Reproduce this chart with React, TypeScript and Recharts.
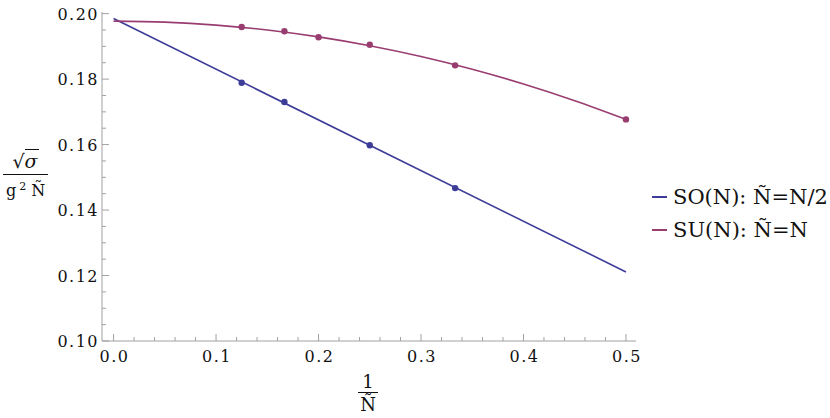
import { ComposedChart, Line, Scatter, XAxis, YAxis } from "recharts";

// fit curves
const SU_FIT_X = [0, 0.05, 0.1, 0.15, 0.2, 0.25, 0.3, 0.35, 0.4, 0.45, 0.5];
const SU_FIT_Y = [0.1977, 0.1974, 0.1965, 0.195, 0.1929, 0.1902, 0.1869, 0.183, 0.1785, 0.1734, 0.1677];
const SO_FIT_X = [0, 0.5];
const SO_FIT_Y = [0.1985, 0.1211];

// measured points
const SO_X = [0.125, 0.1667, 0.25, 0.3333];
const SO_Y = [0.1789, 0.173, 0.1598, 0.1467];
const SU_X = [0.125, 0.1667, 0.2, 0.25, 0.3333, 0.5];
const SU_Y = [0.1959, 0.1946, 0.1928, 0.1905, 0.1842, 0.1677];

const X_MAJOR = [0, 0.1, 0.2, 0.3, 0.4, 0.5];
const X_MINOR = [0.02, 0.04, 0.06, 0.08, 0.12, 0.14, 0.16, 0.18, 0.22, 0.24, 0.26, 0.28, 0.32, 0.34, 0.36, 0.38, 0.42, 0.44, 0.46, 0.48];
const Y_MAJOR = [0.1, 0.12, 0.14, 0.16, 0.18, 0.2];
const Y_MINOR = [0.105, 0.11, 0.115, 0.125, 0.13, 0.135, 0.145, 0.15, 0.155, 0.165, 0.17, 0.175, 0.185, 0.19, 0.195];

const SO_COLOR = "#3d3d99";
const SU_COLOR = "#993d71";
const FRAME = "#a0a0a0";
const SERIF = "DejaVu Serif";

const zip = (xs: number[], ys: number[]) => xs.map((x, i) => ({ x, y: ys[i] }));

const soFit = zip(SO_FIT_X, SO_FIT_Y);
const suFit = zip(SU_FIT_X, SU_FIT_Y);
const soPts = zip(SO_X, SO_Y);
const suPts = zip(SU_X, SU_Y);

const xTicks = [...X_MAJOR, ...X_MINOR].sort((a, b) => a - b);
const yTicks = [...Y_MAJOR, ...Y_MINOR].sort((a, b) => a - b);

type Side = "bottom" | "top" | "left" | "right";

function makeTick(side: Side, majors: number[], digits: number) {
  // eslint-disable-next-line @typescript-eslint/no-explicit-any
  return (props: any) => {
    const { x, y, payload } = props;
    const major = majors.includes(payload.value);
    const len = major ? 7 : 4;
    let x2 = x;
    let y2 = y;
    if (side === "bottom") y2 = y - len;
    if (side === "top") y2 = y + len;
    if (side === "left") x2 = x + len;
    if (side === "right") x2 = x - len;
    return (
      <g>
        <line x1={x} y1={y} x2={x2} y2={y2} stroke={FRAME} strokeWidth={1} />
        {major && side === "bottom" && (
          <text x={x + 1} y={y + 21} textAnchor="middle" fontSize={16} letterSpacing={1.5} fill="#111" style={{ fontFamily: SERIF }}>
            {payload.value.toFixed(digits)}
          </text>
        )}
        {major && side === "left" && (
          <text x={x - 3} y={y + 6} textAnchor="end" fontSize={16} letterSpacing={1.5} fill="#111" style={{ fontFamily: SERIF }}>
            {payload.value.toFixed(digits)}
          </text>
        )}
      </g>
    );
  };
}

function Dot(color: string) {
  // eslint-disable-next-line @typescript-eslint/no-explicit-any
  return (p: any) => <circle cx={p.cx} cy={p.cy} r={3.2} fill={color} />;
}

export default function App() {
  const xDomain: [number, number] = [-0.0113, 0.5098];
  const yDomain: [number, number] = [0.1, 0.2005];
  return (
    <div style={{ position: "absolute", left: 0, top: 0, width: 830, height: 418, background: "#fff", fontFamily: SERIF }}>
      <ComposedChart width={830} height={418} margin={{ top: 12, right: 194, bottom: 0, left: 0 }}>
        <XAxis xAxisId="b" dataKey="x" type="number" domain={xDomain} ticks={xTicks} interval={0} allowDataOverflow
          height={77} stroke={FRAME} tickSize={0} tickMargin={0} tickLine={false} tick={makeTick("bottom", X_MAJOR, 1)} />
        <XAxis xAxisId="t" orientation="top" dataKey="x" type="number" domain={xDomain} ticks={xTicks} interval={0} allowDataOverflow
          height={0} stroke={FRAME} tickSize={0} tickMargin={0} tickLine={false} tick={makeTick("top", X_MAJOR, 1)} />
        <YAxis yAxisId="l" dataKey="y" type="number" domain={yDomain} ticks={yTicks} interval={0} allowDataOverflow
          width={102} stroke={FRAME} tickSize={0} tickMargin={0} tickLine={false} tick={makeTick("left", Y_MAJOR, 2)} />
        <YAxis yAxisId="r" orientation="right" dataKey="y" type="number" domain={yDomain} ticks={yTicks} interval={0} allowDataOverflow
          width={0} stroke={FRAME} tickSize={0} tickMargin={0} tickLine={false} tick={makeTick("right", Y_MAJOR, 2)} />

        <Line xAxisId="b" yAxisId="l" data={soFit} dataKey="y" type="linear" stroke={SO_COLOR} strokeWidth={1.6} dot={false} isAnimationActive={false} />
        <Line xAxisId="b" yAxisId="l" data={suFit} dataKey="y" type="monotone" stroke={SU_COLOR} strokeWidth={1.6} dot={false} isAnimationActive={false} />
        <Scatter xAxisId="b" yAxisId="l" data={soPts} dataKey="y" fill={SO_COLOR} shape={Dot(SO_COLOR)} isAnimationActive={false} />
        <Scatter xAxisId="b" yAxisId="l" data={suPts} dataKey="y" fill={SU_COLOR} shape={Dot(SU_COLOR)} isAnimationActive={false} />
      </ComposedChart>

      {/* y label: sqrt(sigma) / (g^2 N~) */}
      <div style={{ position: "absolute", left: 3, top: 148, width: 45, textAlign: "center", color: "#111" }}>
        <div style={{ fontSize: 19, lineHeight: "26px", borderBottom: "1.2px solid #111", whiteSpace: "nowrap" }}>
          <span>√</span>
          <span style={{ fontStyle: "italic", borderTop: "1.2px solid #111", paddingRight: 1 }}>σ</span>
        </div>
        <div style={{ fontSize: 16, lineHeight: "24px", whiteSpace: "nowrap" }}>
          g<span style={{ fontSize: 11, verticalAlign: "6px", marginLeft: 3, marginRight: 5 }}>2</span>Ñ
        </div>
      </div>

      {/* x label: 1 / N~ */}
      <div style={{ position: "absolute", left: 358, top: 371, width: 20, textAlign: "center", color: "#111" }}>
        <div style={{ fontSize: 18, lineHeight: "21px", borderBottom: "1.2px solid #111" }}>1</div>
        <div style={{ fontSize: 18, lineHeight: "24px" }}>Ñ</div>
      </div>

      {/* legend */}
      {[
        { name: "SO(N): Ñ=N/2", color: SO_COLOR, top: 183 },
        { name: "SU(N): Ñ=N", color: SU_COLOR, top: 216 },
      ].map((item) => (
        <div key={item.name} style={{ position: "absolute", left: 652, top: item.top, display: "flex", alignItems: "center", height: 28, whiteSpace: "nowrap", color: "#111" }}>
          <div style={{ width: 15, height: 1.6, background: item.color, marginRight: 6 }} />
          <span style={{ fontSize: 21 }}>{item.name}</span>
        </div>
      ))}
    </div>
  );
}
